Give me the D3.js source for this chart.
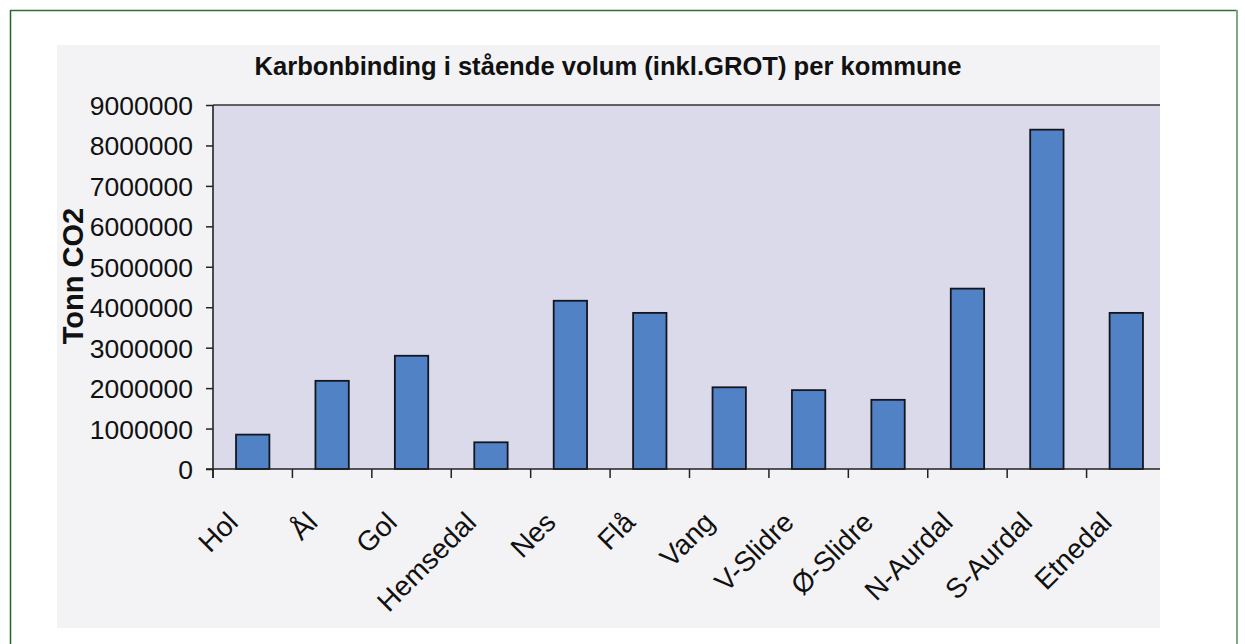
<!DOCTYPE html>
<html>
<head>
<meta charset="utf-8">
<script src="https://cdn.jsdelivr.net/npm/d3@7"></script>
<style>
  html, body { margin: 0; padding: 0; background: #ffffff; }
  svg { display: block; }
  text { font-family: "Liberation Sans", Arial, sans-serif; fill: #111; }
</style>
</head>
<body>
<svg id="chart" width="1245" height="644"></svg>
<script>
const categories = ["Hol", "Ål", "Gol", "Hemsedal", "Nes", "Flå", "Vang", "V-Slidre", "Ø-Slidre", "N-Aurdal", "S-Aurdal", "Etnedal"];
const values = [850000, 2180000, 2800000, 660000, 4160000, 3860000, 2020000, 1950000, 1710000, 4460000, 8390000, 3860000];
const yTicks = [0, 1000000, 2000000, 3000000, 4000000, 5000000, 6000000, 7000000, 8000000, 9000000];
const titleText = "Karbonbinding i stående volum (inkl.GROT) per kommune";
const yTitle = "Tonn CO2";

const svg = d3.select("#chart");

// outer frame
svg.append("line").attr("x1", 10.5).attr("y1", 10.5).attr("x2", 1237).attr("y2", 10.5)
  .attr("stroke", "#2f6f35").attr("stroke-width", 1.5);
svg.append("line").attr("x1", 10.5).attr("y1", 10).attr("x2", 10.5).attr("y2", 644)
  .attr("stroke", "#1f6a22").attr("stroke-width", 1.5);
svg.append("line").attr("x1", 1237).attr("y1", 10).attr("x2", 1237).attr("y2", 644)
  .attr("stroke", "#7da786").attr("stroke-width", 2);

// chart panel (cropped scan)
const panel = { x0: 57, y0: 45, x1: 1160, y1: 628 };
svg.append("defs").append("clipPath").attr("id", "panelClip")
  .append("rect").attr("x", panel.x0).attr("y", panel.y0)
  .attr("width", panel.x1 - panel.x0).attr("height", panel.y1 - panel.y0);

const g = svg.append("g").attr("clip-path", "url(#panelClip)");
g.append("rect").attr("x", panel.x0).attr("y", panel.y0)
  .attr("width", panel.x1 - panel.x0).attr("height", panel.y1 - panel.y0)
  .attr("fill", "#f3f3f6");

const plot = { left: 213, right: 1166, top: 105, bottom: 469 };

const x = d3.scaleBand().domain(categories).range([plot.left, plot.right])
  .paddingInner(0.58).paddingOuter(0.29);
const xTickScale = d3.scaleBand().domain(categories).range([plot.left, plot.right]);
const y = d3.scaleLinear().domain([0, 9000000]).range([plot.bottom, plot.top]);

// plot area
g.append("rect").attr("x", plot.left).attr("y", plot.top)
  .attr("width", plot.right - plot.left).attr("height", plot.bottom - plot.top)
  .attr("fill", "#dadaeb");
g.append("line").attr("x1", plot.left).attr("x2", plot.right)
  .attr("y1", plot.top).attr("y2", plot.top)
  .attr("stroke", "#333", ).attr("stroke-width", 1.5);

// bars
g.selectAll("rect.bar").data(values).enter().append("rect")
  .attr("class", "bar")
  .attr("x", (d, i) => x(categories[i]))
  .attr("y", d => y(d))
  .attr("width", x.bandwidth())
  .attr("height", d => y(0) - y(d))
  .attr("fill", "#5282c6")
  .attr("stroke", "#15151f")
  .attr("stroke-width", 1.8);

// y axis
const yAxis = d3.axisLeft(y).tickValues(yTicks).tickFormat(d3.format("d")).tickSize(7).tickPadding(13);
const ya = g.append("g").attr("transform", `translate(${plot.left},0)`).call(yAxis);
ya.select(".domain").remove();
ya.selectAll(".tick line").attr("stroke", "#222").attr("stroke-width", 1.5);
ya.selectAll(".tick text").style("font-size", "26.5px").style("font-family", "Liberation Sans, Arial, sans-serif").attr("fill", "#1a1a1a").attr("dy", "0.36em");
g.append("line").attr("x1", plot.left).attr("x2", plot.left).attr("y1", plot.top).attr("y2", plot.bottom + 9)
  .attr("stroke", "#222").attr("stroke-width", 1.6);

// x axis
g.append("line").attr("x1", plot.left - 7).attr("x2", plot.right).attr("y1", plot.bottom).attr("y2", plot.bottom)
  .attr("stroke", "#222").attr("stroke-width", 1.6);
g.selectAll("line.xtick").data(categories).enter().append("line")
  .attr("class", "xtick")
  .attr("x1", d => xTickScale(d)).attr("x2", d => xTickScale(d))
  .attr("y1", plot.bottom).attr("y2", plot.bottom + 9)
  .attr("stroke", "#222").attr("stroke-width", 1.5);
g.selectAll("text.xlab").data(categories).enter().append("text")
  .attr("class", "xlab")
  .attr("text-anchor", "end")
  .attr("transform", d => `translate(${xTickScale(d) + xTickScale.bandwidth() / 2 - 13},${plot.bottom + 55}) rotate(-45)`)
  .style("font-size", "28px")
  .text(d => d);

// title
g.append("text").attr("x", 608).attr("y", 75).attr("text-anchor", "middle")
  .style("font-size", "26px").style("font-weight", "bold")
  .attr("textLength", 707).attr("lengthAdjust", "spacingAndGlyphs")
  .text(titleText);

// y title
g.append("text").attr("transform", `translate(83,276) rotate(-90)`).attr("text-anchor", "middle")
  .style("font-size", "29px").style("font-weight", "bold")
  .text(yTitle);
</script>
</body>
</html>
